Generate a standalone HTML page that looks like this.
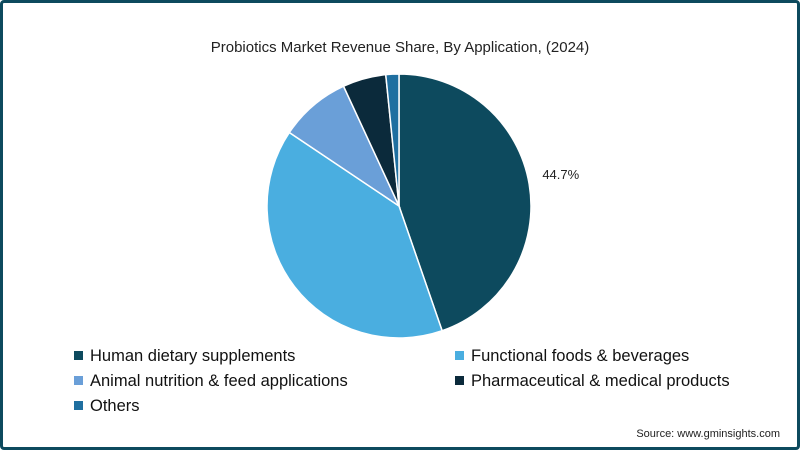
<!DOCTYPE html>
<html><head><meta charset="utf-8"><style>
body{margin:0;width:800px;height:450px;overflow:hidden;background:#fff;font-family:"Liberation Sans",sans-serif}
#frame{position:absolute;left:0;top:0;width:794px;height:444px;border:3px solid #0d4a5e;border-radius:4px;background:#fff}
</style></head><body>
<div id="frame"></div>
<svg id="chart" width="800" height="450" style="position:absolute;left:0;top:0">
<text x="400" y="52" text-anchor="middle" font-size="15" fill="#222">Probiotics Market Revenue Share, By Application, (2024)</text>
<g id="slices"></g>
<g id="legend"></g>
<text x="780" y="437" text-anchor="end" font-size="11" fill="#222">Source: www.gminsights.com</text>
</svg>
<script>
const categories=["Human dietary supplements","Functional foods & beverages","Animal nutrition & feed applications","Pharmaceutical & medical products","Others"];
const values=[44.7,39.7,8.7,5.3,1.6];
const labels=["44.7%","","","",""];
const colors=["#0d4a5e","#4aaee0","#6a9fd8","#0b2a3b","#1f6fa0"];
const NS="http://www.w3.org/2000/svg";
const cx=399,cy=206,r=132;
const total=values.reduce((a,b)=>a+b,0);
const sg=document.getElementById('slices');
let acc=0;
function pt(frac,rad){const a=frac*2*Math.PI;return [cx+rad*Math.sin(a),cy-rad*Math.cos(a)];}
values.forEach((v,i)=>{
 const s=acc/total,e=(acc+v)/total;acc+=v;
 const [x1,y1]=pt(s,r),[x2,y2]=pt(e,r);
 const p=document.createElementNS(NS,'path');
 p.setAttribute('d',`M${cx},${cy}L${x1},${y1}A${r},${r} 0 ${e-s>0.5?1:0} 1 ${x2},${y2}Z`);
 p.setAttribute('fill',colors[i]);p.setAttribute('stroke','#fff');p.setAttribute('stroke-width','1.5');
 
 
 sg.appendChild(p);
 if(labels[i]){
  const [lx,ly]=pt((s+e)/2,r+30);
  const t=document.createElementNS(NS,'text');
  t.setAttribute('x',lx+2);t.setAttribute('y',ly);t.setAttribute('font-size','13');t.setAttribute('fill','#222');
  t.setAttribute('text-anchor','middle');
  t.textContent=labels[i];
  
  
  sg.appendChild(t);
 }
});
const lg=document.getElementById('legend');
categories.forEach((c,i)=>{
 const col=i%2,row=Math.floor(i/2);
 const x=col?455:74,y=355+row*25;
 const g=document.createElementNS(NS,'g');
 
 
 const rc=document.createElementNS(NS,'rect');
 rc.setAttribute('x',x);rc.setAttribute('y',y-4);rc.setAttribute('width',9);rc.setAttribute('height',9);rc.setAttribute('fill',colors[i]);
 const t=document.createElementNS(NS,'text');
 t.setAttribute('x',x+16);t.setAttribute('y',y+6);t.setAttribute('font-size','16.5');t.setAttribute('fill','#111');
 t.textContent=c;
 g.appendChild(rc);g.appendChild(t);lg.appendChild(g);
});
</script>
</body></html>
